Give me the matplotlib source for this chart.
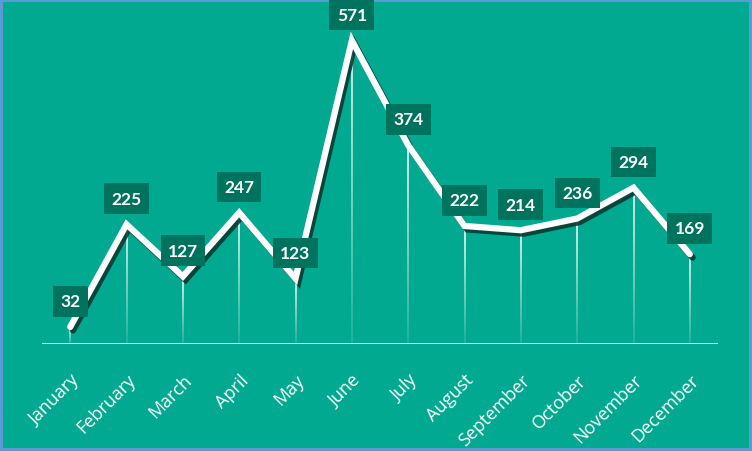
import matplotlib
matplotlib.use("Agg")
import matplotlib.pyplot as plt
import matplotlib.patheffects as pe
import numpy as np
from matplotlib.collections import LineCollection

MONTHS = ["January", "February", "March", "April", "May", "June",
          "July", "August", "September", "October", "November", "December"]
VALUES = [32, 225, 127, 247, 123, 571, 374, 222, 214, 236, 294, 169]

BG = "#00a98f"
BOX = "#00735f"
SHADOW = "#0a3b33"
BORDER = "#5b9bd5"

plt.rcParams["font.family"] = ["Lato", "DejaVu Sans"]

fig = plt.figure(figsize=(7.52, 4.52), dpi=100)
fig.patch.set_facecolor(BG)
fig.patch.set_edgecolor(BORDER)
fig.patch.set_linewidth(3)

ax = fig.add_axes([0.0559, 0.2367, 0.8989, 0.7058])
ax.set_facecolor(BG)
x = np.arange(len(MONTHS))
ax.set_xlim(-0.5, len(MONTHS) - 0.5)
ax.set_ylim(0, 600)

# drop lines fading toward the axis
segs, cols = [], []
n = 30
for xi, v in zip(x, VALUES):
    ys = np.linspace(v, 0, n + 1)
    for k in range(n):
        segs.append([(xi, ys[k]), (xi, ys[k + 1])])
        cols.append((1, 1, 1, 0.85 * (1 - k / n) + 0.12))
ax.add_collection(LineCollection(segs, colors=cols, linewidths=1.2, zorder=2))

ax.plot(x, VALUES, color="white", lw=4.5, solid_capstyle="round",
        solid_joinstyle="miter", zorder=3,
        path_effects=[pe.SimpleLineShadow(offset=(2, -2.5), shadow_color=SHADOW, alpha=0.9),
                      pe.Normal()])

for xi, v in zip(x, VALUES):
    ax.annotate(str(v), (xi, v), xytext=(0, 18.5), textcoords="offset points",
                ha="center", va="center", color="white", fontsize=12.5,
                fontweight="bold", zorder=5,
                bbox=dict(boxstyle="square,pad=0.42", fc=BOX, ec="none"))

ax.axhline(0, color="white", lw=2, zorder=4)
for s in ax.spines.values():
    s.set_visible(False)
ax.set_yticks([])
ax.set_xticks(x)
ax.set_xticklabels(MONTHS, rotation=45, ha="right", rotation_mode="anchor",
                   color="white", fontsize=13, family=["Open Sans", "DejaVu Sans"])
ax.tick_params(axis="x", length=0, pad=19)

fig.savefig("out.png", dpi=100, facecolor=BG, edgecolor=BORDER)
